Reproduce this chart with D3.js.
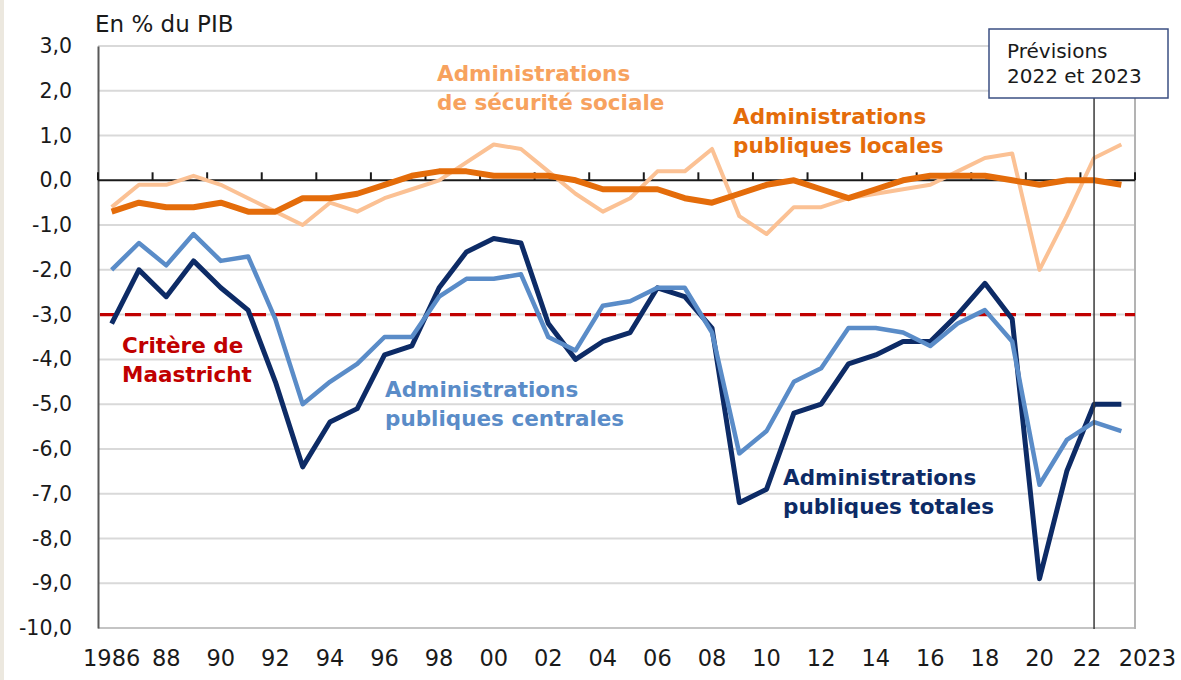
<!DOCTYPE html>
<html>
<head>
<meta charset="utf-8">
<script src="https://cdn.jsdelivr.net/npm/d3@7"></script>
<style>
  body { margin: 0; background: #fff; }
  svg { display: block; }
</style>
</head>
<body>
<svg id="chart"></svg>
<script>
const years = [1986, 1987, 1988, 1989, 1990, 1991, 1992, 1993, 1994, 1995, 1996, 1997, 1998, 1999,
  2000, 2001, 2002, 2003, 2004, 2005, 2006, 2007, 2008, 2009, 2010, 2011, 2012, 2013, 2014, 2015,
  2016, 2017, 2018, 2019, 2020, 2021, 2022, 2023];

// Administrations publiques totales
const apuTotales = [-3.2, -2.0, -2.6, -1.8, -2.4, -2.9, -4.5, -6.4, -5.4, -5.1, -3.9, -3.7, -2.4, -1.6,
  -1.3, -1.4, -3.2, -4.0, -3.6, -3.4, -2.4, -2.6, -3.3, -7.2, -6.9, -5.2, -5.0, -4.1, -3.9, -3.6,
  -3.6, -3.0, -2.3, -3.1, -8.9, -6.5, -5.0, -5.0];

// Administrations publiques centrales
const apuCentrales = [-2.0, -1.4, -1.9, -1.2, -1.8, -1.7, -3.1, -5.0, -4.5, -4.1, -3.5, -3.5, -2.6, -2.2,
  -2.2, -2.1, -3.5, -3.8, -2.8, -2.7, -2.4, -2.4, -3.4, -6.1, -5.6, -4.5, -4.2, -3.3, -3.3, -3.4,
  -3.7, -3.2, -2.9, -3.6, -6.8, -5.8, -5.4, -5.6];

// Administrations publiques locales
const apuLocales = [-0.7, -0.5, -0.6, -0.6, -0.5, -0.7, -0.7, -0.4, -0.4, -0.3, -0.1, 0.1, 0.2, 0.2,
  0.1, 0.1, 0.1, 0.0, -0.2, -0.2, -0.2, -0.4, -0.5, -0.3, -0.1, 0.0, -0.2, -0.4, -0.2, 0.0,
  0.1, 0.1, 0.1, 0.0, -0.1, 0.0, 0.0, -0.1];

// Administrations de sécurité sociale
const securiteSociale = [-0.6, -0.1, -0.1, 0.1, -0.1, -0.4, -0.7, -1.0, -0.5, -0.7, -0.4, -0.2, 0.0, 0.4,
  0.8, 0.7, 0.2, -0.3, -0.7, -0.4, 0.2, 0.2, 0.7, -0.8, -1.2, -0.6, -0.6, -0.4, -0.3, -0.2,
  -0.1, 0.2, 0.5, 0.6, -2.0, -0.8, 0.5, 0.8];

const maastricht = -3;
const forecastStart = 2022;

const yTicks = [3, 2, 1, 0, -1, -2, -3, -4, -5, -6, -7, -8, -9, -10];
const xTickYears = [1986, 1988, 1990, 1992, 1994, 1996, 1998, 2000, 2002, 2004, 2006, 2008, 2010,
  2012, 2014, 2016, 2018, 2020, 2022, 2023];
const xTickText = ["1986", "88", "90", "92", "94", "96", "98", "00", "02", "04", "06", "08", "10",
  "12", "14", "16", "18", "20", "22", "2023"];

const width = 1181;
const height = 680;
const font = "'DejaVu Sans', sans-serif";

const svg = d3.select("#chart").attr("width", width).attr("height", height)
  .style("font-family", font);

svg.append("rect").attr("width", width).attr("height", height).attr("fill", "#fff");
svg.append("rect").attr("width", 4).attr("height", height).attr("fill", "#ece8df");

const x = d3.scaleBand().domain(years).range([98, 1135]).padding(0);
const y = d3.scaleLinear().domain([-10, 3]).range([628, 46]);
const cx = (yr) => x(yr) + x.bandwidth() / 2;

// Gridlines
svg.append("g")
  .selectAll("line")
  .data(yTicks.filter((d) => d !== 0))
  .join("line")
  .attr("x1", 98)
  .attr("x2", 1135)
  .attr("y1", (d) => y(d))
  .attr("y2", (d) => y(d))
  .attr("stroke", (d) => (d === -10 ? "#c4c4c4" : "#d9d9d9"))
  .attr("stroke-width", 2);

// Right border of plot area
svg.append("line")
  .attr("x1", 1135).attr("x2", 1135).attr("y1", 46).attr("y2", 629)
  .attr("stroke", "#b3b3b3").attr("stroke-width", 2);

// Y axis
const yAxis = svg.append("g")
  .attr("transform", "translate(98,0)")
  .call(d3.axisLeft(y).tickValues(yTicks).tickSize(0).tickPadding(26)
    .tickFormat((d) => d3.format(".1f")(d).replace(".", ",").replace("−", "-")));
yAxis.select(".domain").attr("stroke", "#595959").attr("stroke-width", 2);
yAxis.selectAll("text").style("font-family", font).style("font-size", "20.5px").attr("fill", "#1a1a1a");

// Title
svg.append("text")
  .attr("x", 95).attr("y", 32)
  .style("font-size", "23px").attr("fill", "#1a1a1a")
  .text("En % du PIB");

// X axis labels at bottom
const xAxis = svg.append("g")
  .attr("transform", "translate(0,628)")
  .call(d3.axisBottom(x).tickValues(xTickYears).tickSize(0).tickPadding(22)
    .tickFormat((d) => xTickText[xTickYears.indexOf(d)]));
xAxis.select(".domain").remove();
xAxis.selectAll("text")
  .style("font-family", font).style("font-size", "22.5px").attr("fill", "#1a1a1a")
  .attr("dx", (d) => (d === 2023 ? 26 : d === 2022 ? -7 : 0));

// Maastricht dashed line
svg.append("line")
  .attr("x1", 100).attr("x2", 1135)
  .attr("y1", y(maastricht)).attr("y2", y(maastricht))
  .attr("stroke", "#c00000").attr("stroke-width", 3.2)
  .attr("stroke-dasharray", "16 9");

// Zero axis with upward ticks at every second category boundary
const zeroTicks = years.filter((d, i) => i % 2 === 0).map((d) => x(d)).concat([x.range()[1]]);
svg.append("line")
  .attr("x1", 98).attr("x2", 1135).attr("y1", y(0)).attr("y2", y(0))
  .attr("stroke", "#1a1a1a").attr("stroke-width", 2);
svg.append("g")
  .selectAll("line")
  .data(zeroTicks)
  .join("line")
  .attr("x1", (d) => d).attr("x2", (d) => d)
  .attr("y1", y(0)).attr("y2", y(0) - 8)
  .attr("stroke", "#1a1a1a").attr("stroke-width", 2);

// Series
const line = d3.line().x((d) => cx(d.year)).y((d) => y(d.value));
const toPoints = (vals) => years.map((yr, i) => ({ year: yr, value: vals[i] }));

const series = [
  { values: apuTotales, color: "#0d2b66", width: 5 },
  { values: apuCentrales, color: "#5a8cc8", width: 4.5 },
  { values: securiteSociale, color: "#fbc194", width: 4 },
  { values: apuLocales, color: "#e46c0a", width: 6 },
];

svg.append("g")
  .selectAll("path")
  .data(series)
  .join("path")
  .attr("d", (d) => line(toPoints(d.values)))
  .attr("fill", "none")
  .attr("stroke", (d) => d.color)
  .attr("stroke-width", (d) => d.width)
  .attr("stroke-linejoin", "round");

// Forecast marker
svg.append("line")
  .attr("x1", cx(forecastStart)).attr("x2", cx(forecastStart))
  .attr("y1", 98).attr("y2", 629)
  .attr("stroke", "#3a3a3a").attr("stroke-width", 1.5);

svg.append("rect")
  .attr("x", 989).attr("y", 29).attr("width", 179).attr("height", 69)
  .attr("fill", "#fff").attr("stroke", "#3b4f82").attr("stroke-width", 1.5);

const boxText = svg.append("text").style("font-size", "20px").attr("fill", "#1a1a1a");
boxText.append("tspan").attr("x", 1007).attr("y", 58).text("Prévisions");
boxText.append("tspan").attr("x", 1007).attr("y", 83).text("2022 et 2023");

// Series labels
const labels = [
  { lines: ["Administrations", "de sécurité sociale"], x: 437, y: 81, color: "#f7a25e" },
  { lines: ["Administrations", "publiques locales"], x: 733, y: 124, color: "#e46c0a" },
  { lines: ["Critère de", "Maastricht"], x: 122, y: 353, color: "#c00000" },
  { lines: ["Administrations", "publiques centrales"], x: 385, y: 397, color: "#5a8cc8" },
  { lines: ["Administrations", "publiques totales"], x: 783, y: 485, color: "#0d2b66" },
];

labels.forEach((l) => {
  const t = svg.append("text")
    .style("font-size", "21.5px").style("font-weight", "bold").attr("fill", l.color);
  l.lines.forEach((s, i) => {
    t.append("tspan").attr("x", l.x).attr("y", l.y + i * 28.5).text(s);
  });
});
</script>
</body>
</html>
